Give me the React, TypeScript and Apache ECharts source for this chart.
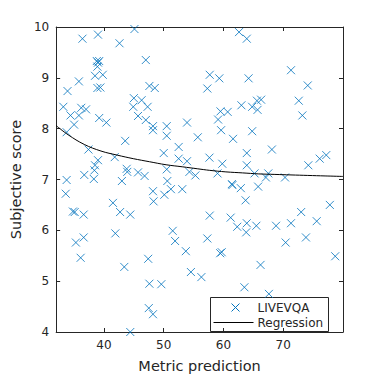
import React, { useEffect, useRef } from 'react';
import * as echarts from 'echarts';

const xValues = [
  45.1, 36.4, 39.0, 42.6, 38.8, 39.0, 39.2, 38.9, 47.0, 38.5, 39.8, 35.8, 33.9, 38.9, 39.4, 47.6, 48.5, 45.0, 46.3, 44.9,
  47.3, 45.7, 47.0, 33.2, 36.2, 37.0, 34.4, 35.8, 35.0, 39.2, 40.4, 48.2, 48.2, 50.5, 53.9,
  62.6, 63.9, 57.7, 59.3, 64.2, 71.3, 57.3, 74.1, 63.0, 65.6, 66.3, 64.8, 65.7, 72.6, 73.2, 59.5, 60.7, 59.1,
  50.5, 33.75, 55.7, 43.55, 37.4, 52.5, 50.0, 41.8, 52.5, 53.9, 39.0, 38.5, 38.4, 38.3, 43.8, 43.9, 45.7, 46.8, 36.7,
  43.0, 33.75, 50.5, 54.3, 55.3, 50.6, 51.2, 53.1, 48.2, 50.1, 33.6, 48.3, 41.5, 42.7, 44.4, 34.8, 35.1, 36.6,
  59.6, 64.8, 61.6, 68.1, 63.9, 57.65, 59.8, 63.9, 74.2, 76.1, 77.2, 59.0, 65.2, 67.5, 67.1, 70.3, 61.4, 61.5, 62.9,
  65.8, 63.7, 77.8, 73.0, 57.7, 61.2, 75.6, 71.3, 63.9, 65.5, 62.3, 68.8,
  63.8, 57.3, 70.4, 73.8, 59.45, 59.7, 78.7, 66.2, 56.3, 63.5, 67.6,
  51.5, 35.3, 36.6, 41.9, 51.9, 53.7, 36.1, 47.4, 43.4, 54.55, 47.6, 49.6, 47.5, 48.2, 44.4,
];
const yValues = [
  9.96, 9.77, 9.85, 9.68, 9.33, 9.30, 9.33, 9.22, 9.35, 9.04, 9.06, 8.93, 8.74, 8.80, 8.81, 8.84, 8.80, 8.60, 8.56, 8.43,
  8.43, 8.25, 8.17, 8.43, 8.41, 8.38, 8.26, 8.26, 8.08, 8.21, 8.12, 8.05, 7.97, 8.05, 8.12,
  9.90, 9.77, 9.06, 8.99, 8.99, 9.15, 8.79, 8.85, 8.46, 8.55, 8.57, 8.43, 8.37, 8.55, 8.26, 8.34, 8.33, 8.18,
  7.86, 7.93, 7.83, 7.76, 7.59, 7.64, 7.52, 7.44, 7.41, 7.36, 7.38, 7.28, 7.18, 7.01, 7.21, 7.15, 7.14, 7.07, 7.09,
  6.97, 6.99, 7.20, 7.15, 7.08, 6.97, 6.81, 6.81, 6.77, 6.70, 6.72, 6.57, 6.54, 6.36, 6.31, 6.37, 6.36, 6.31,
  7.97, 7.95, 7.80, 7.59, 7.52, 7.43, 7.31, 7.28, 7.28, 7.41, 7.48, 7.12, 7.12, 7.12, 7.04, 7.04, 6.91, 6.89, 6.83,
  6.86, 6.59, 6.50, 6.36, 6.29, 6.25, 6.18, 6.14, 6.14, 6.09, 6.07, 6.09,
  5.96, 5.84, 5.76, 5.86, 5.55, 5.57, 5.49, 5.32, 5.08, 4.88, 4.75,
  5.99, 5.76, 5.86, 5.94, 5.79, 5.59, 5.46, 5.44, 5.28, 5.18, 4.95, 4.94, 4.47, 4.35, 4.00,
];
const regX = [32, 34.0, 36.7, 39.5, 42.2, 44.9, 47.6, 50.4, 53.1, 55.7, 57.7, 60.4, 63.2, 65.9, 68.6, 71.3, 74.1, 77.0, 80];
const regY = [8.06, 7.88, 7.69, 7.56, 7.48, 7.41, 7.35, 7.29, 7.25, 7.21, 7.18, 7.15, 7.13, 7.11, 7.10, 7.09, 7.08, 7.07, 7.06];
const yTicks = [4, 5, 6, 7, 8, 9, 10];
const xLabelTicks = [40, 50, 60, 70];
const seriesNames = ['LIVEVQA', 'Regression'];
const xTitle = 'Metric prediction';
const yTitle = 'Subjective score';

const BLUE = '#0072BD';
const DARK = '#262626';
const FONT = 'DejaVu Sans';
const CROSS = 'path://M0,0L10,10M0,10L10,0';

export default function App() {
  const ref = useRef<HTMLDivElement>(null);
  useEffect(() => {
    if (!ref.current) return;
    const chart = echarts.init(ref.current, undefined, { renderer: 'svg' });
    const common = {
      axisLine: { show: true, lineStyle: { color: DARK, width: 1 } },
      axisTick: { show: true, inside: true, length: 4, lineStyle: { color: DARK } },
      splitLine: { show: false },
    };
    const option: any = {
      animation: false,
      backgroundColor: '#fff',
      grid: { left: 49, right: 35, top: 27, bottom: 41, containLabel: false },
      xAxis: [
        {
          type: 'value', min: 32, max: 80, position: 'bottom',
          ...common,
          axisLabel: {
            show: true, color: DARK, fontFamily: FONT, fontSize: 12, margin: 7,
            showMinLabel: false, showMaxLabel: false,
            formatter: (v: number) => (xLabelTicks.indexOf(v) >= 0 ? String(v) : ''),
          },
          name: xTitle, nameLocation: 'middle', nameGap: 26,
          nameTextStyle: { color: DARK, fontFamily: FONT, fontSize: 14.5 },
        },
        {
          type: 'value', min: 32, max: 80, position: 'top',
          ...common, axisLabel: { show: false },
        },
      ],
      yAxis: [
        {
          type: 'value', min: yTicks[0], max: yTicks[yTicks.length - 1], interval: 1, position: 'left',
          ...common,
          axisLabel: { show: true, color: DARK, fontFamily: FONT, fontSize: 12, margin: 7 },
          name: yTitle, nameLocation: 'middle', nameGap: 27,
          nameTextStyle: { color: DARK, fontFamily: FONT, fontSize: 14.5 },
        },
        {
          type: 'value', min: yTicks[0], max: yTicks[yTicks.length - 1], interval: 1, position: 'right',
          ...common, axisLabel: { show: false },
        },
      ],
      series: [
        {
          name: seriesNames[0],
          type: 'scatter',
          xAxisIndex: 0, yAxisIndex: 0,
          data: xValues.map((x, i) => [x, yValues[i]]),
          symbol: CROSS,
          symbolSize: 8,
          itemStyle: { color: 'rgba(0,0,0,0)', borderColor: BLUE, borderWidth: 1 },
          clip: true,
        },
        {
          name: seriesNames[1],
          type: 'line',
          xAxisIndex: 0, yAxisIndex: 0,
          data: regX.map((x, i) => [x, regY[i]]),
          showSymbol: false,
          smooth: 0.4,
          lineStyle: { color: '#000', width: 1 },
          z: 3,
        },
      ],
      graphic: [
        {
          type: 'group', left: 210, top: 297, z: 100,
          children: [
            { type: 'rect', shape: { x: 0, y: 0, width: 118, height: 34 }, style: { fill: '#fff', stroke: DARK, lineWidth: 1 } },
            { type: 'line', shape: { x1: 21, y1: 6, x2: 29, y2: 14 }, style: { stroke: BLUE, lineWidth: 1 } },
            { type: 'line', shape: { x1: 21, y1: 14, x2: 29, y2: 6 }, style: { stroke: BLUE, lineWidth: 1 } },
            { type: 'text', x: 47, y: 10, style: { text: seriesNames[0], fill: DARK, font: `12px "${FONT}"`, verticalAlign: 'middle' } },
            { type: 'line', shape: { x1: 3, y1: 25, x2: 43, y2: 25 }, style: { stroke: '#000', lineWidth: 1 } },
            { type: 'text', x: 47, y: 25, style: { text: seriesNames[1], fill: DARK, font: `12px "${FONT}"`, verticalAlign: 'middle' } },
          ],
        },
      ],
    };
    chart.setOption(option);
    return () => chart.dispose();
  }, []);
  return <div ref={ref} style={{ width: 378, height: 378, position: 'fixed', left: 0, top: 0 }} />;
}
